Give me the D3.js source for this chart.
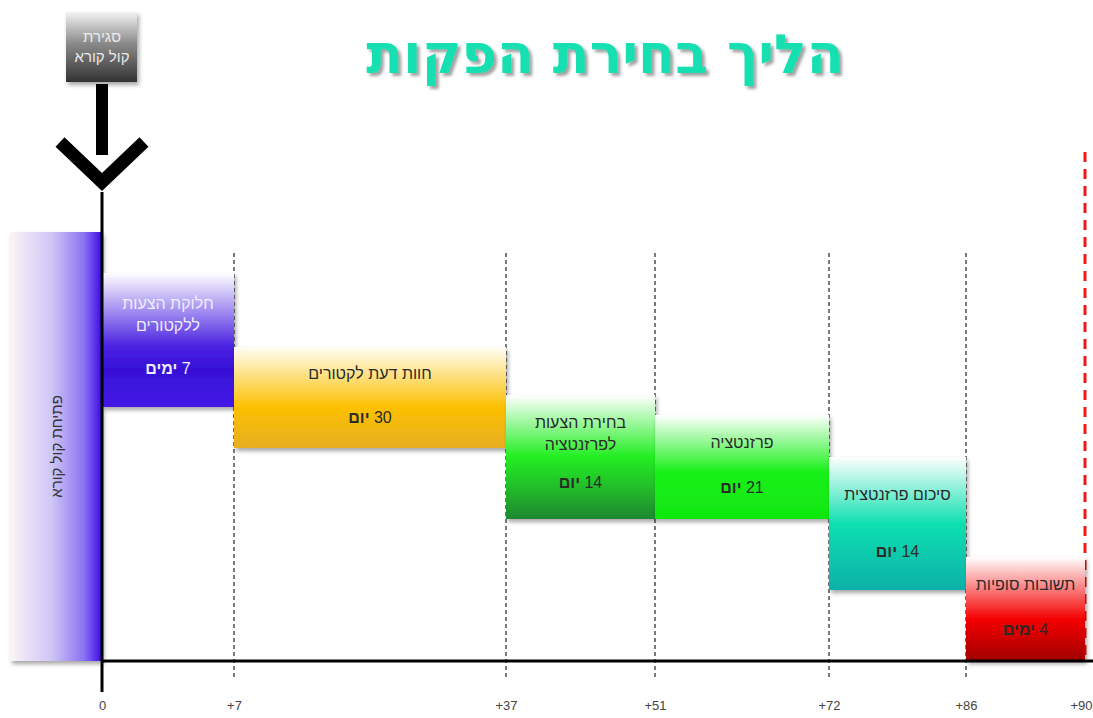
<!DOCTYPE html>
<html>
<head>
<meta charset="utf-8">
<script src="https://cdn.jsdelivr.net/npm/d3@7"></script>
<style>
  body { margin: 0; background: #fff; }
  svg { display: block; }
  text { font-family: "Liberation Sans Narrow", "Liberation Sans", sans-serif; }
</style>
</head>
<body>
<svg id="chart" width="1093" height="718"></svg>
<script>
// phases of the process
const phaseNames = [
  ["חלוקת הצעות", "ללקטורים"],
  ["חוות דעת לקטורים"],
  ["בחירת הצעות", "לפרזנטציה"],
  ["פרזנטציה"],
  ["סיכום פרזנטצית"],
  ["תשובות סופיות"]
];
const phaseDays = [7, 30, 14, 21, 14, 4];
const phaseUnits = ["ימים", "יום", "יום", "יום", "יום", "ימים"];
const dayTicks = [0, 7, 37, 51, 72, 86, 90];
const tickLabels = ["0", "+7", "+37", "+51", "+72", "+86", "+90"];

const titleText = "הליך בחירת הפקות";
const openText = "פתיחת קול קורא";
const closeText = ["סגירת", "קול קורא"];

// layout (the days axis is not evenly spaced in the original)
const tickX = [102, 234, 506, 655, 829, 966, 1085];
const boxY = [[273, 407], [347, 448], [395, 519], [415, 519], [457, 590], [557, 661]];
const boxColors = [
  [["0", "#ffffff"], ["0.55", "#4a22e2"], ["0.72", "#3610d6"], ["1", "#4418e6"]],
  [["0", "#fffdf6"], ["0.6", "#fcc000"], ["1", "#e6ae22"]],
  [["0", "#ffffff"], ["0.5", "#22ee22"], ["0.75", "#20bc2a"], ["1", "#1f8830"]],
  [["0", "#ffffff"], ["0.55", "#18f018"], ["1", "#10e810"]],
  [["0", "#ffffff"], ["0.5", "#10e0b0"], ["1", "#10b0a8"]],
  [["0", "#ffffff"], ["0.6", "#f40000"], ["1", "#a00000"]]
];
const textFill = ["#eeeeff", "#2a2a2a", "#2a2a2a", "#2a2a2a", "#2a2a2a", "#2a2a2a"];

const axisY = 661;

const svg = d3.select("#chart");
const defs = svg.append("defs");

const x = d3.scaleLinear().domain(dayTicks).range(tickX);

// starting day of each phase
let acc = 0;
const phases = phaseDays.map((d, i) => {
  const p = { i: i, start: acc, end: acc + d, days: d, name: phaseNames[i], unit: phaseUnits[i] };
  acc += d;
  return p;
});

// filters
const shadow = defs.append("filter").attr("id", "shadow")
  .attr("x", "-10%").attr("y", "-10%").attr("width", "130%").attr("height", "130%");
shadow.append("feDropShadow").attr("dx", 2).attr("dy", 3).attr("stdDeviation", 2)
  .attr("flood-color", "#000").attr("flood-opacity", 0.35);

const tshadow = defs.append("filter").attr("id", "tshadow")
  .attr("x", "-5%").attr("y", "-20%").attr("width", "115%").attr("height", "150%");
tshadow.append("feDropShadow").attr("dx", 3).attr("dy", 3).attr("stdDeviation", 1.5)
  .attr("flood-color", "#555").attr("flood-opacity", 0.55);

// gradients
boxColors.forEach((stops, i) => {
  const g = defs.append("linearGradient").attr("id", "grad" + i)
    .attr("x1", 0).attr("y1", 0).attr("x2", 0).attr("y2", 1);
  stops.forEach(s => g.append("stop").attr("offset", s[0]).attr("stop-color", s[1]));
});
const openGrad = defs.append("linearGradient").attr("id", "openGrad")
  .attr("x1", 0).attr("y1", 0).attr("x2", 1).attr("y2", 0);
[["0", "#fbf4f6"], ["0.45", "#cfc6f6"], ["0.8", "#8c74f2"], ["1", "#3c0ae6"]]
  .forEach(s => openGrad.append("stop").attr("offset", s[0]).attr("stop-color", s[1]));
const closeGrad = defs.append("linearGradient").attr("id", "closeGrad")
  .attr("x1", 0).attr("y1", 0).attr("x2", 0).attr("y2", 1);
[["0", "#f4f4f4"], ["0.45", "#8a8a8a"], ["1", "#333333"]]
  .forEach(s => closeGrad.append("stop").attr("offset", s[0]).attr("stop-color", s[1]));

// title
svg.append("text")
  .attr("x", 605).attr("y", 73)
  .attr("text-anchor", "middle")
  .attr("direction", "rtl")
  .style("font-family", "'DejaVu Sans', sans-serif")
  .attr("font-weight", "bold")
  .attr("font-size", 54)
  .attr("fill", "#12e0b2")
  .attr("filter", "url(#tshadow)")
  .text(titleText);

// dashed guides
svg.selectAll(".guide")
  .data(dayTicks.slice(1, -1))
  .enter().append("line")
  .attr("class", "guide")
  .attr("x1", d => x(d)).attr("x2", d => x(d))
  .attr("y1", 253).attr("y2", 680)
  .attr("stroke", "#333").attr("stroke-width", 1.3)
  .attr("stroke-dasharray", "4,3");

// deadline
svg.append("line")
  .attr("x1", x(90)).attr("x2", x(90))
  .attr("y1", 152).attr("y2", axisY)
  .attr("stroke", "#f01818").attr("stroke-width", 3)
  .attr("stroke-dasharray", "10,7");

// call open box
svg.append("rect")
  .attr("x", 10).attr("y", 232)
  .attr("width", x(0) - 10).attr("height", axisY - 232)
  .attr("fill", "url(#openGrad)")
  .attr("filter", "url(#shadow)");
svg.append("text")
  .attr("transform", `translate(57,${(232 + axisY) / 2}) rotate(-90)`)
  .attr("text-anchor", "middle")
  .attr("dy", "0.35em")
  .attr("direction", "rtl")
  .attr("font-size", 15)
  .attr("fill", "#333")
  .text(openText);

// phase boxes
const box = svg.selectAll(".phase")
  .data(phases)
  .enter().append("g")
  .attr("class", "phase");

box.append("rect")
  .attr("x", d => x(d.start))
  .attr("y", d => boxY[d.i][0])
  .attr("width", d => x(d.end) - x(d.start))
  .attr("height", d => boxY[d.i][1] - boxY[d.i][0])
  .attr("fill", d => "url(#grad" + d.i + ")")
  .attr("filter", "url(#shadow)");

box.each(function (d) {
  const g = d3.select(this);
  const cx = (x(d.start) + x(d.end)) / 2;
  const top = boxY[d.i][0];
  const h = boxY[d.i][1] - top;
  const lines = d.name;
  const firstY = lines.length > 1 ? top + h * 0.27 : top + h * 0.32;
  lines.forEach((ln, k) => {
    g.append("text")
      .attr("x", cx).attr("y", firstY + k * 22)
      .attr("text-anchor", "middle")
      .attr("direction", "rtl")
      .attr("font-size", 16)
      .attr("fill", textFill[d.i])
      .text(ln);
  });
  const t = g.append("text")
    .attr("x", cx).attr("y", top + h * 0.75)
    .attr("text-anchor", "middle")
    .attr("direction", "rtl")
    .attr("font-size", 16)
    .attr("fill", textFill[d.i]);
  t.append("tspan").attr("font-weight", "normal").text(d.days + " ");
  t.append("tspan").attr("font-weight", "bold").text(d.unit);
});

// axes
svg.append("line")
  .attr("x1", x(0)).attr("x2", 1093)
  .attr("y1", axisY).attr("y2", axisY)
  .attr("stroke", "#000").attr("stroke-width", 3);
svg.append("line")
  .attr("x1", x(0)).attr("x2", x(0))
  .attr("y1", 192).attr("y2", 692)
  .attr("stroke", "#000").attr("stroke-width", 3);

const xAxis = d3.axisBottom(x)
  .tickValues(dayTicks)
  .tickFormat((d, i) => tickLabels[i])
  .tickSize(0)
  .tickPadding(40);
const ax = svg.append("g")
  .attr("transform", `translate(0,${axisY})`)
  .call(xAxis);
ax.select(".domain").remove();
ax.selectAll("text")
  .attr("font-size", 13)
  .style("font-family", "'Liberation Sans Narrow', 'Liberation Sans', sans-serif")
  .attr("fill", "#444");
// keep the last label inside the frame
ax.selectAll(".tick").filter(d => d === dayTicks[dayTicks.length - 1])
  .select("text").attr("text-anchor", "end").attr("dx", 7);

// call close box + arrow
svg.append("rect")
  .attr("x", 66).attr("y", 12).attr("width", 71).attr("height", 70)
  .attr("fill", "url(#closeGrad)")
  .attr("filter", "url(#shadow)");
closeText.forEach((ln, k) => {
  svg.append("text")
    .attr("x", x(0)).attr("y", 42 + k * 20)
    .attr("text-anchor", "middle")
    .attr("direction", "rtl")
    .attr("font-size", 15)
    .attr("fill", "#eaeaea")
    .text(ln);
});
svg.append("rect")
  .attr("x", x(0) - 6).attr("y", 84).attr("width", 12).attr("height", 71)
  .attr("fill", "#000");
svg.append("path")
  .attr("d", `M${x(0) - 42},${142} L${x(0)},${182} L${x(0) + 42},${142}`)
  .attr("fill", "none")
  .attr("stroke", "#000")
  .attr("stroke-width", 13);
</script>
</body>
</html>
